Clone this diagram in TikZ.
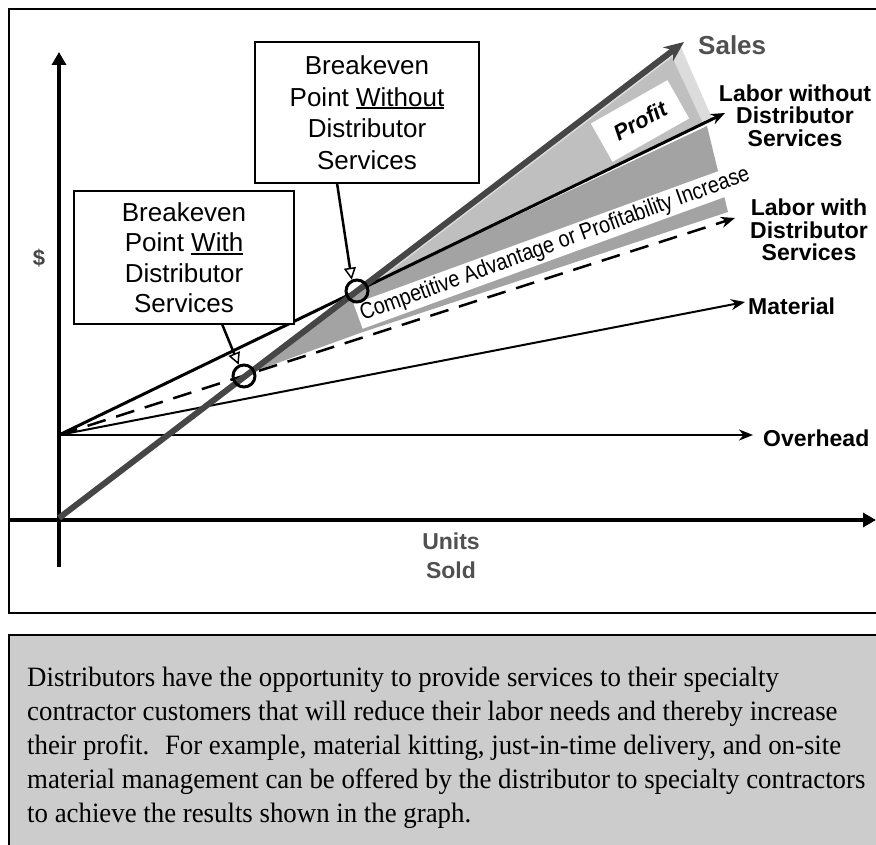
\documentclass[tikz,border=0pt]{standalone}
\usepackage{fontspec}
\usepackage{graphicx}
\setmainfont{Liberation Serif}
\setsansfont{Liberation Sans}
\usetikzlibrary{arrows.meta}
\definecolor{salesgray}{HTML}{464646}
\definecolor{saleslbl}{HTML}{505050}
\definecolor{stripgray}{HTML}{DCDCDC}
\definecolor{lightgray}{HTML}{BFBFBF}
\definecolor{darkgray}{HTML}{A3A3A3}
\definecolor{boxgray}{HTML}{CCCCCC}
\newcommand{\myfs}[2]{\fontsize{#1pt}{#2pt}\selectfont}
\newcommand{\myul}[1]{\vtop{\hbox{#1}\kern1.2pt\hrule height 1.6pt}}
\newcommand{\fitw}[2]{\resizebox{#1pt}{\height}{#2}}
\newcommand{\sqz}[1]{\scalebox{0.958}[1]{#1}}
\begin{document}
\begin{tikzpicture}[x=1pt,y=-1pt,
  lbl/.style={font=\sffamily\bfseries\myfs{23}{22.5}, align=center, inner sep=0pt},
  bebox/.style={draw, line width=2.5pt, fill=white, align=center, inner sep=0pt},
  costline/.style={line width=2.5pt, -{Stealth[length=14pt,width=11pt]}},
  axis/.style={line width=4pt, -{Triangle[length=13pt,width=14pt]}},
  bearrow/.style={line width=2.5pt, -{Triangle[open,length=12pt,width=12pt,line width=1.5pt,fill=white]}},
  bepoint/.style={circle, draw, line width=3pt, minimum size=22pt, inner sep=0pt}
]
\useasboundingbox (0,0) rectangle (876,845);
\clip (0,0) rectangle (876,845);

% frames
\draw[line width=2.5pt] (9,9) rectangle (900,613);
\draw[line width=2.5pt, fill=boxgray] (9,635) rectangle (900,870);

% key points
\coordinate (O) at (59,435);
\coordinate (S0) at (59,518);
\coordinate (salesE) at (684,42);
\coordinate (lwoE) at (725,113);
\coordinate (lwE) at (735,218);
\coordinate (matE) at (745,302);
\coordinate (ovE) at (753,435);
\coordinate (xS) at (10,520);
\coordinate (xE) at (876,520);
\coordinate (yS) at (59,567);
\coordinate (yE) at (59,52);

% shaded regions
\fill[stripgray] (357,291) -- (680,45) -- (712,118) -- (712,119) -- cycle;
\fill[lightgray] (378.5,280.5) -- (672,57.2) -- (703,123.6) -- cycle;
\fill[darkgray] (244,376) -- (357,291) -- (707,126) -- (728,212) -- (360,333) -- (250,373) -- cycle;

% band text
\node[fill=white, rotate=20, anchor=base west, inner xsep=3pt, inner ysep=2.5pt,
      font=\sffamily\myfs{23}{23}] (band) at (360,322) {\fitw{413}{Competitive Advantage or Profitability Increase}};
\node[fill=white, rotate=29.5, minimum width=88pt, minimum height=44pt, inner sep=0pt,
      font=\sffamily\bfseries\itshape\myfs{22}{22}] (profit) at (640,121) {Profit};

% axes
\draw[axis] (xS) -- (xE);
\draw[axis] (yS) -- (yE);

% cost lines
\draw[costline, dash pattern=on 19pt off 11pt] (O) -- (lwE);
\draw[costline, line width=2pt] (O) -- (matE);
\draw[costline] (O) -- (ovE);
\draw[costline, line width=3pt] (O) -- (lwoE);
\draw[line width=6pt, salesgray, -{Stealth[length=20pt,width=17pt]}] (S0) -- (salesE);

% breakeven points
\node[bepoint] (be1) at (357,291) {};
\node[bepoint] (be2) at (244,376) {};

% boxes
\node[bebox, minimum width=224pt, minimum height=141pt, font=\sffamily\myfs{26}{31.5}] (bwo) at (367,112.5)
  {Breakeven\\Point \myul{Without}\\Distributor\\Services};
\node[bebox, minimum width=220pt, minimum height=133pt, font=\sffamily\myfs{26}{30.5}] (bw) at (184,257.5)
  {Breakeven\\Point \myul{With}\\Distributor\\Services};

\coordinate (a1) at (337,183);
\coordinate (a2) at (222,324);
\draw[bearrow] (a1) -- (be1.115);
\draw[bearrow] (a2) -- (be2.115);

% labels
\node[anchor=west, inner sep=0pt, font=\sffamily\bfseries\myfs{26}{26}, text=saleslbl] (salesL) at (698,45) {Sales};
\node[lbl] (lwoL) at (795,115.5) {Labor without\\Distributor\\Services};
\node[lbl] (lwL) at (809,230) {Labor with\\Distributor\\Services};
\node[lbl, anchor=west] (matL) at (748,306) {Material};
\node[lbl, anchor=west] (ovL) at (763,438) {Overhead};
\node[inner sep=0pt, font=\sffamily\bfseries\myfs{22}{22}, text=salesgray] (dollar) at (39,258) {\$};
\node[lbl, text=saleslbl, font=\sffamily\bfseries\myfs{23}{28.5}] (units) at (451,556) {Units\\Sold};

% body text
\node[anchor=north west, inner sep=0pt, align=left, font=\rmfamily\myfs{28}{34}] (body) at (27,666.5)
  {\sqz{Distributors have the opportunity to provide services to their specialty}\\
   \sqz{contractor customers that will reduce their labor needs and thereby increase}\\
   \sqz{their profit.~ For example, material kitting, just-in-time delivery, and on-site}\\
   \sqz{material management can be offered by the distributor to specialty contractors}\\
   \sqz{to achieve the results shown in the graph.}};
\end{tikzpicture}
\end{document}
